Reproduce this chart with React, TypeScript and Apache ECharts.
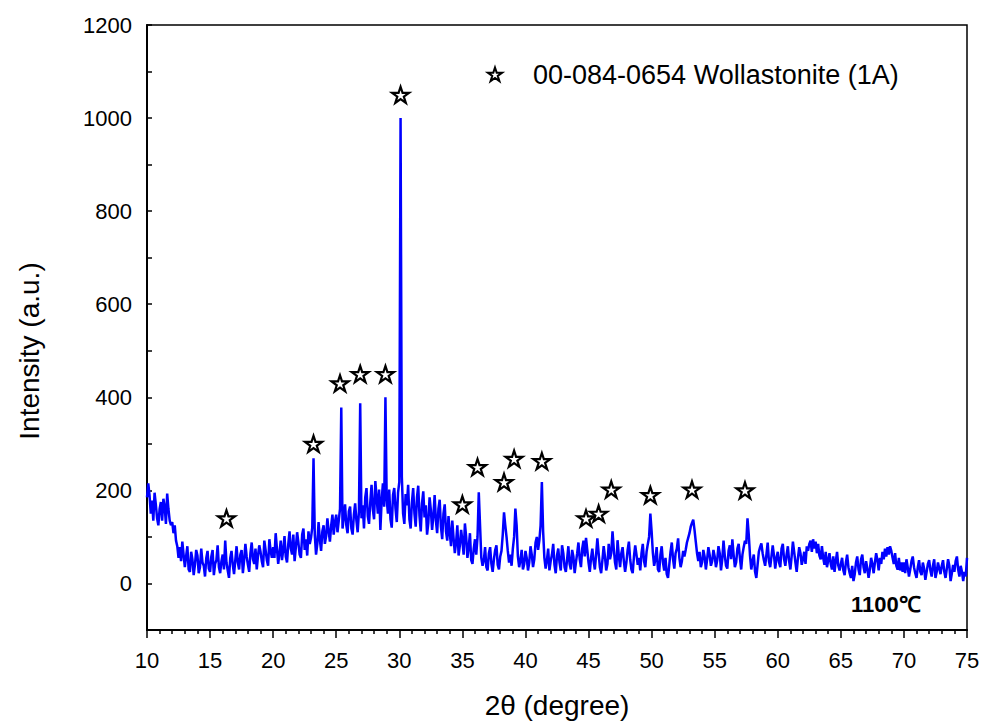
import React, { useEffect, useRef } from "react";
import * as echarts from "echarts";

// 2θ sampling: 10.0° to 75.0° in 0.1° steps
const thetaStart = 10;
const thetaStep = 0.1;

// Intensity values, one segment per 5 degrees (50 points each)
const seg10 = [185, 215, 190, 150, 178, 135, 195, 170, 140, 125,
  160, 175, 135, 182, 165, 128, 193, 160, 135, 125,
  132, 108, 125, 92, 80, 55, 78, 48, 90, 62,
  35, 58, 80, 30, 25, 68, 52, 18, 40, 72,
  60, 22, 35, 75, 45, 38, 15, 55, 70, 32];
const seg15 = [25, 58, 72, 18, 42, 50, 82, 35, 22, 48,
  62, 30, 92, 45, 28, 12, 55, 70, 40, 20,
  50, 80, 45, 30, 62, 72, 22, 50, 85, 58,
  40, 25, 65, 88, 52, 42, 75, 30, 60, 82,
  68, 48, 35, 92, 72, 50, 38, 95, 70, 55];
const seg20 = [78, 55, 108, 75, 42, 65, 92, 50, 72, 102,
  58, 45, 85, 112, 75, 62, 105, 48, 78, 110,
  88, 62, 55, 105, 118, 72, 95, 60, 112, 85,
  98, 120, 269, 105, 62, 85, 132, 95, 70, 112,
  125, 85, 102, 140, 112, 90, 125, 148, 105, 132];
const seg25 = [148, 110, 135, 160, 378, 118, 142, 170, 125, 108,
  155, 165, 118, 105, 148, 172, 135, 110, 155, 387,
  140, 168, 118, 185, 205, 145, 128, 175, 212, 160,
  138, 220, 185, 150, 202, 115, 178, 215, 165, 400,
  180, 150, 202, 138, 120, 190, 205, 160, 132, 195];
const seg30 = [218, 1000, 230, 150, 128, 192, 168, 212, 138, 118,
  175, 205, 150, 122, 185, 210, 145, 112, 172, 198,
  142, 168, 105, 130, 185, 158, 115, 145, 190, 135,
  108, 160, 180, 122, 95, 150, 170, 112, 92, 145,
  108, 80, 135, 98, 65, 88, 125, 60, 82, 115];
const seg35 = [92, 62, 129, 100, 55, 78, 108, 50, 42, 75,
  95, 62, 100, 196, 125, 55, 38, 50, 78, 35,
  28, 65, 78, 42, 25, 52, 72, 82, 40, 30,
  58, 70, 105, 153, 125, 100, 70, 45, 62, 38,
  75, 100, 161, 125, 58, 35, 50, 72, 30, 42];
const seg40 = [70, 55, 28, 45, 80, 62, 35, 52, 88, 100,
  72, 92, 125, 218, 112, 55, 32, 50, 75, 28,
  48, 62, 85, 40, 22, 60, 75, 45, 28, 82,
  65, 35, 25, 52, 80, 42, 30, 72, 58, 22,
  45, 65, 88, 52, 35, 75, 92, 58, 98, 72];
const seg45 = [45, 25, 55, 75, 48, 30, 62, 97, 65, 35,
  22, 50, 80, 58, 28, 42, 85, 52, 65, 112,
  75, 45, 30, 93, 60, 35, 65, 78, 48, 25,
  45, 72, 90, 52, 30, 22, 58, 82, 62, 40,
  55, 28, 65, 85, 48, 35, 68, 85, 100, 150];
const seg50 = [112, 65, 38, 52, 78, 30, 25, 62, 80, 45,
  28, 55, 20, 12, 40, 68, 88, 52, 32, 65,
  75, 97, 55, 35, 48, 70, 58, 72, 88, 98,
  108, 122, 130, 137, 115, 90, 65, 48, 68, 35,
  45, 72, 58, 30, 52, 78, 62, 38, 48, 72];
const seg55 = [58, 35, 50, 80, 65, 28, 52, 92, 60, 38,
  32, 70, 82, 52, 95, 62, 35, 45, 75, 85,
  55, 30, 62, 78, 92, 85, 140, 105, 60, 30,
  48, 62, 25, 12, 40, 68, 78, 86, 65, 50,
  38, 62, 88, 48, 35, 58, 82, 60, 32, 55];
const seg60 = [68, 45, 35, 75, 85, 52, 38, 62, 80, 48,
  30, 58, 90, 68, 45, 25, 55, 78, 65, 40,
  52, 68, 42, 80, 70, 85, 92, 68, 95, 75,
  90, 65, 85, 60, 52, 80, 55, 40, 68, 35,
  50, 65, 42, 30, 58, 25, 48, 68, 38, 28];
const seg65 = [42, 55, 28, 18, 45, 62, 35, 22, 12, 38,
  5, 20, 45, 58, 30, 18, 52, 62, 35, 22,
  48, 32, 12, 30, 55, 42, 22, 45, 65, 50,
  28, 55, 42, 68, 52, 75, 58, 78, 62, 80,
  70, 55, 42, 65, 38, 30, 55, 28, 45, 25];
const seg70 = [45, 22, 52, 35, 15, 30, 48, 58, 35, 22,
  12, 35, 50, 25, 18, 45, 32, 8, 25, 42,
  50, 28, 15, 38, 52, 12, 25, 45, 32, 20,
  38, 50, 25, 12, 32, 52, 38, 5, 22, 40,
  25, 48, 58, 30, 15, 38, 25, 5, 25, 15,
  55];

// Wollastonite reference peak markers
const starX = [16.3, 23.2, 25.3, 26.9, 28.9, 30.1, 35.0, 36.2, 38.3, 39.1, 41.3, 44.8, 45.8, 46.8, 49.9, 53.2, 57.4];
const starY = [140, 300, 430, 450, 450, 1050, 170, 250, 218, 268, 263, 140, 150, 202, 190, 202, 200];

const legendLabel = "00-084-0654 Wollastonite (1A)";
const sampleLabel = "1100℃";

const STAR_PATH =
  "path://M50 0 L61.2 34.5 L97.6 34.5 L68.2 55.9 L79.4 90.5 L50 69.1 L20.6 90.5 L31.8 55.9 L2.4 34.5 L38.8 34.5 Z";

function starPoints(cx: number, cy: number, r: number): number[][] {
  const pts: number[][] = [];
  for (let i = 0; i < 10; i++) {
    const rr = i % 2 === 0 ? r : r * 0.382;
    const a = -Math.PI / 2 + (i * Math.PI) / 5;
    pts.push([cx + rr * Math.cos(a), cy + rr * Math.sin(a)]);
  }
  return pts;
}

const FONT = "'Liberation Sans', Arial, Helvetica, sans-serif";

export default function App() {
  const ref = useRef<HTMLDivElement>(null);

  useEffect(() => {
    if (!ref.current) return;
    const chart = echarts.init(ref.current, undefined, { renderer: "svg" });

    const ys = [...seg10, ...seg15, ...seg20, ...seg25, ...seg30, ...seg35, ...seg40,
      ...seg45, ...seg50, ...seg55, ...seg60, ...seg65, ...seg70];
    const lineData = ys.map((y, i) => [Math.round((thetaStart + i * thetaStep) * 100) / 100, y]);
    const starData = starX.map((x, i) => [x, starY[i]]);

    chart.setOption({
      animation: false,
      grid: {
        left: 147,
        right: 16,
        top: 25,
        bottom: 94,
        show: true,
        borderColor: "#000",
        borderWidth: 1.5,
        backgroundColor: "transparent",
      },
      xAxis: {
        type: "value",
        min: 10,
        max: 75,
        interval: 5,
        name: "2θ (degree)",
        nameLocation: "middle",
        nameGap: 61,
        nameTextStyle: { fontSize: 28, color: "#000", fontFamily: FONT },
        axisLine: { onZero: false, lineStyle: { color: "#000", width: 2 } },
        axisTick: { inside: false, length: 8, lineStyle: { color: "#000", width: 1.5 } },
        minorTick: { show: true, splitNumber: 5, length: 4, lineStyle: { color: "#000", width: 1.5 } },
        axisLabel: { fontSize: 22, color: "#000", fontFamily: FONT, margin: 19 },
        splitLine: { show: false },
      },
      yAxis: {
        type: "value",
        min: -100,
        max: 1200,
        interval: 100,
        axisLine: { onZero: false, lineStyle: { color: "#000", width: 2 } },
        axisTick: { inside: true, length: 5, lineStyle: { color: "#000", width: 1.5 } },
        axisLabel: {
          fontSize: 22,
          color: "#000",
          fontFamily: FONT,
          margin: 15,
          formatter: (v: number) => (v % 200 === 0 ? String(v) : ""),
        },
        splitLine: { show: false },
      },
      series: [
        {
          type: "line",
          data: lineData,
          showSymbol: false,
          symbol: "none",
          lineStyle: { color: "#0000ff", width: 2.5 },
          z: 2,
        },
        {
          type: "scatter",
          name: legendLabel,
          data: starData,
          symbol: STAR_PATH,
          symbolKeepAspect: true,
          symbolSize: 17,
          itemStyle: { color: "#fff", borderColor: "#000", borderWidth: 2.2, opacity: 1 },
          z: 3,
        },
      ],
      graphic: [
        {
          type: "polygon",
          shape: { points: starPoints(495, 75, 7.5) },
          style: { fill: "#fff", stroke: "#000", lineWidth: 2 },
        },
        {
          type: "text",
          x: 533,
          y: 75,
          style: {
            text: legendLabel,
            fontSize: 27,
            fontFamily: FONT,
            fill: "#000",
            textAlign: "left",
            textVerticalAlign: "middle",
          },
        },
        {
          type: "text",
          x: 851,
          y: 604,
          style: {
            text: sampleLabel,
            fontSize: 22,
            fontWeight: "bold",
            fontFamily: FONT,
            fill: "#000",
            textAlign: "left",
            textVerticalAlign: "middle",
          },
        },
        {
          type: "text",
          x: 29,
          y: 351,
          rotation: Math.PI / 2,
          style: {
            text: "Intensity (a.u.)",
            fontSize: 28,
            fontFamily: FONT,
            fill: "#000",
            textAlign: "center",
            textVerticalAlign: "middle",
          },
        },
      ],
    });

    return () => chart.dispose();
  }, []);

  return <div ref={ref} style={{ width: 983, height: 724, position: "absolute", left: 0, top: 0 }} />;
}
